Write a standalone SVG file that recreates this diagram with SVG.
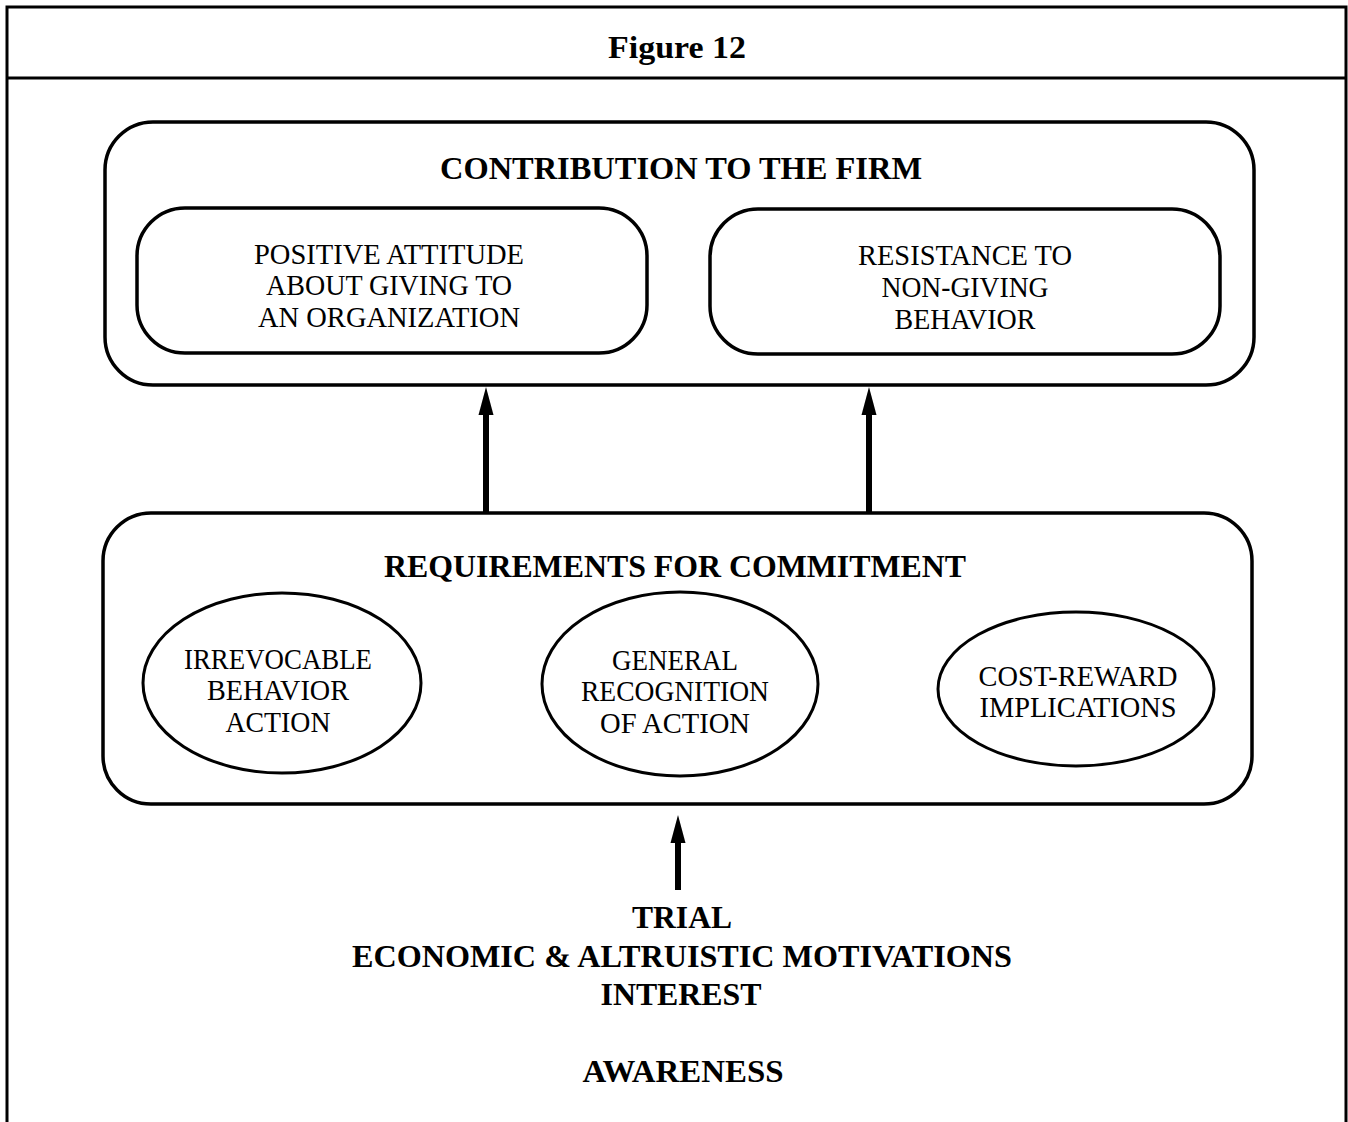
<svg xmlns="http://www.w3.org/2000/svg" width="1348" height="1122" viewBox="0 0 1348 1122">
<style>
.frame{fill:none;stroke:#000;stroke-width:3}
.box{fill:none;stroke:#000;stroke-width:3.5}
.ell{fill:none;stroke:#000;stroke-width:3}
.b{font-family:"Liberation Serif",serif;font-weight:bold;font-size:32px;text-anchor:middle;fill:#000}
.t{font-family:"Liberation Serif",serif;font-size:29px;text-anchor:middle;fill:#000}
.arr{stroke:#000;stroke-width:6;fill:none}
</style>
<defs>
<marker id="ah" markerUnits="userSpaceOnUse" markerWidth="28" markerHeight="16" refX="8" refY="8" orient="auto" viewBox="0 0 28 16">
<path d="M28,8 L0,0.5 L0,15.5 Z" fill="#000"/>
</marker>
</defs>
<rect width="1348" height="1122" fill="#fff"/>
<g id="frame">
<path class="frame" d="M7,1122 L7,7 L1346,7 L1346,1122"/>
<line class="frame" x1="7" y1="78" x2="1346" y2="78" stroke-width="2"/>
<text class="b" x="677" y="58" font-size="27" textLength="138" lengthAdjust="spacingAndGlyphs">Figure 12</text>
</g>
<g id="contribution">
<rect class="box" x="105" y="122" width="1149" height="263" rx="48"/>
<text class="b" x="681" y="179" textLength="482" lengthAdjust="spacingAndGlyphs">CONTRIBUTION TO THE FIRM</text>
</g>
<g id="positive-attitude">
<rect class="box" x="137" y="208" width="510" height="145" rx="48"/>
<text class="t" x="389" y="264" textLength="270" lengthAdjust="spacingAndGlyphs">POSITIVE ATTITUDE</text>
<text class="t" x="389" y="295" textLength="246" lengthAdjust="spacingAndGlyphs">ABOUT GIVING TO</text>
<text class="t" x="389" y="327" textLength="262" lengthAdjust="spacingAndGlyphs">AN ORGANIZATION</text>
</g>
<g id="resistance">
<rect class="box" x="710" y="209" width="510" height="145" rx="48"/>
<text class="t" x="965" y="265" textLength="214" lengthAdjust="spacingAndGlyphs">RESISTANCE TO</text>
<text class="t" x="965" y="297" textLength="167" lengthAdjust="spacingAndGlyphs">NON-GIVING</text>
<text class="t" x="965" y="329" textLength="141" lengthAdjust="spacingAndGlyphs">BEHAVIOR</text>
</g>
<g id="requirements">
<rect class="box" x="103" y="513" width="1149" height="291" rx="48"/>
<text class="b" x="675" y="577" textLength="582" lengthAdjust="spacingAndGlyphs">REQUIREMENTS FOR COMMITMENT</text>
</g>
<g id="irrevocable">
<ellipse class="ell" cx="282" cy="683" rx="139" ry="90"/>
<text class="t" x="278" y="669" textLength="188" lengthAdjust="spacingAndGlyphs">IRREVOCABLE</text>
<text class="t" x="278" y="700" textLength="142" lengthAdjust="spacingAndGlyphs">BEHAVIOR</text>
<text class="t" x="278" y="732" textLength="105" lengthAdjust="spacingAndGlyphs">ACTION</text>
</g>
<g id="general-recognition">
<ellipse class="ell" cx="680" cy="684" rx="138" ry="92"/>
<text class="t" x="675" y="670" textLength="126" lengthAdjust="spacingAndGlyphs">GENERAL</text>
<text class="t" x="675" y="701" textLength="188" lengthAdjust="spacingAndGlyphs">RECOGNITION</text>
<text class="t" x="675" y="733" textLength="150" lengthAdjust="spacingAndGlyphs">OF ACTION</text>
</g>
<g id="cost-reward">
<ellipse class="ell" cx="1076" cy="689" rx="138" ry="77"/>
<text class="t" x="1078" y="686" textLength="199" lengthAdjust="spacingAndGlyphs">COST-REWARD</text>
<text class="t" x="1078" y="717" textLength="197" lengthAdjust="spacingAndGlyphs">IMPLICATIONS</text>
</g>
<g id="stages">
<text class="b" x="682" y="928" textLength="100" lengthAdjust="spacingAndGlyphs">TRIAL</text>
<text class="b" x="682" y="967" textLength="660" lengthAdjust="spacingAndGlyphs">ECONOMIC &amp; ALTRUISTIC MOTIVATIONS</text>
<text class="b" x="681" y="1005" textLength="161" lengthAdjust="spacingAndGlyphs">INTEREST</text>
<text class="b" x="683" y="1082" textLength="201" lengthAdjust="spacingAndGlyphs">AWARENESS</text>
</g>
<g id="connectors">
<line class="arr" x1="486" y1="513" x2="486" y2="407" marker-end="url(#ah)"/>
<line class="arr" x1="869" y1="513" x2="869" y2="407" marker-end="url(#ah)"/>
<line class="arr" x1="678" y1="890" x2="678" y2="835" marker-end="url(#ah)"/>
</g>
</svg>
